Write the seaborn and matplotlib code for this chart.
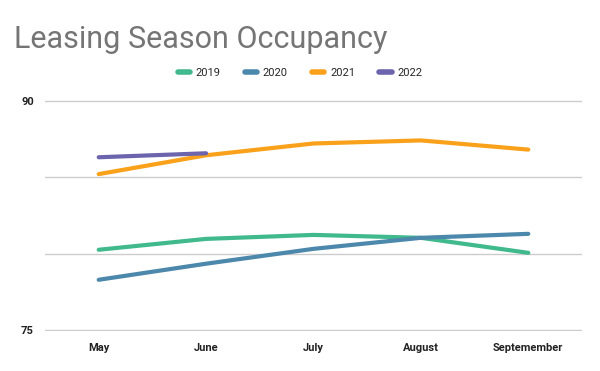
import pandas as pd
import matplotlib.pyplot as plt
import seaborn as sns
from matplotlib.lines import Line2D

months = ["May", "June", "July", "August", "Septemember"]
occ_2019 = [80.26, 80.97, 81.23, 81.04, 80.06]
occ_2020 = [78.3, 79.35, 80.32, 81.04, 81.3]
occ_2021 = [85.2, 86.43, 87.2, 87.4, 86.8]
occ_2022 = [86.3, 86.56]
years = ["2019", "2020", "2021", "2022"]
colors = ["#40BA8D", "#4C88AC", "#F9A11B", "#6C64AD"]

rows = []
for yr, vals in zip(years, [occ_2019, occ_2020, occ_2021, occ_2022]):
    for i, v in enumerate(vals):
        rows.append({"Month": i, "Year": yr, "Occupancy": v})
df = pd.DataFrame(rows)

sns.set_style("white")
plt.rcParams["font.family"] = ["Roboto", "DejaVu Sans"]

fig = plt.figure(figsize=(6, 3.71), dpi=100)
ax = fig.add_axes([0.075, 0.108, 0.895, 0.6225])

sns.lineplot(data=df, x="Month", y="Occupancy", hue="Year", palette=colors,
             linewidth=3, ax=ax, legend=False, sort=False)

ax.set_xlim(-0.5, 4.5)
ax.set_ylim(74.96, 90.04)
ax.set_yticks([75, 80, 85, 90])
ax.set_yticklabels(["75", "", "", "90"])
ax.set_xticks(range(len(months)))
ax.set_xticklabels(months)
ax.tick_params(axis="y", length=0, labelsize=8, labelcolor="#222222", pad=8)
ax.tick_params(axis="x", length=0, labelsize=8, labelcolor="#222222", pad=9)
for lab in ax.get_xticklabels() + ax.get_yticklabels():
    lab.set_fontweight("bold")
ax.grid(axis="y", color="#cccccc", linewidth=1)
ax.set_axisbelow(True)
for s in ax.spines.values():
    s.set_visible(False)
ax.set_xlabel("")
ax.set_ylabel("")

fig.text(0.023, 0.87, "Leasing Season Occupancy", fontsize=22, color="#757575")

handles = [Line2D([0], [0], color=c, linewidth=4) for c in colors]
fig.legend(handles, years, loc="center", bbox_to_anchor=(0.5, 0.803), ncol=4,
           frameon=False, fontsize=8, handlelength=1.1, handletextpad=0.5,
           columnspacing=2.2)

fig.savefig("out.png", dpi=100)
